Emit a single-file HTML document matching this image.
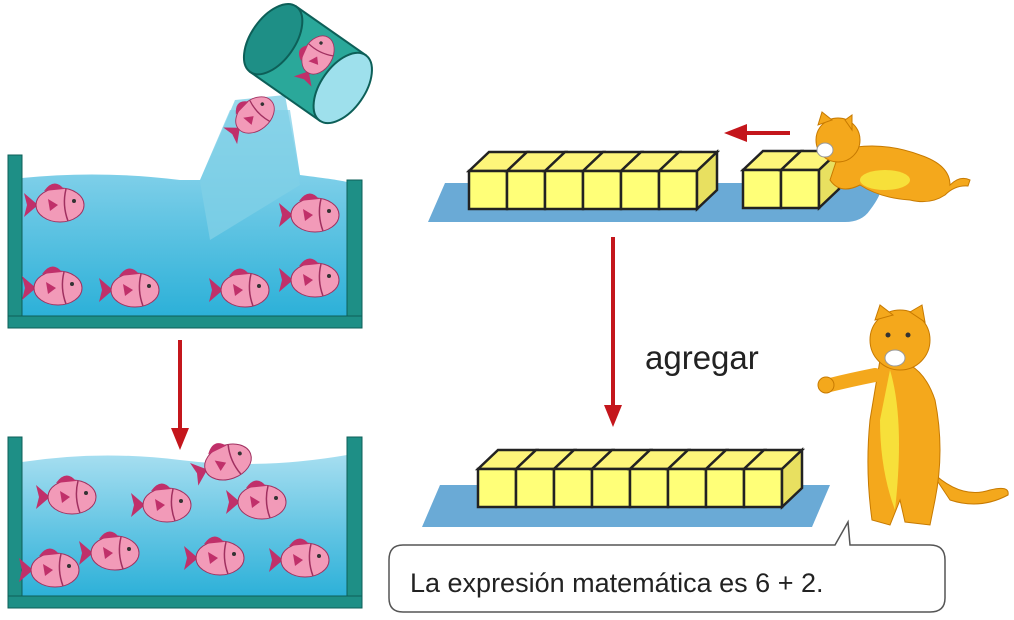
<!DOCTYPE html>
<html><head><meta charset="utf-8"><style>
html,body{margin:0;padding:0;background:#fff;}
svg{display:block;}
</style></head><body>
<svg width="1014" height="620" viewBox="0 0 1014 620" xmlns="http://www.w3.org/2000/svg">
<defs>
<linearGradient id="w" x1="0" y1="0" x2="0" y2="1">
<stop offset="0" stop-color="#a6def0"/><stop offset="0.5" stop-color="#66c6e4"/><stop offset="1" stop-color="#2bb0d8"/>
</linearGradient>
<g id="fish0">
<path d="M22,0 L36,-12 L33,0 L36,12 Z" fill="#c0306a"/>
<ellipse cx="0" cy="0" rx="24" ry="17" fill="#f29ab8" stroke="#a03060" stroke-width="1"/>
<path d="M-4,-16 Q6,-28 16,-14 Z" fill="#c0306a"/>
<path d="M-6,-16 Q-2,0 -8,16" fill="none" stroke="#a03060" stroke-width="1.5"/>
<circle cx="-14" cy="-4" r="2" fill="#333"/>
<path d="M2,0 L12,-6 L10,6 Z" fill="#c0306a"/>
</g>
<g id="fish"><use href="#fish0" transform="scale(-1,1)"/></g>
<g id="cube">
<polygon points="0,19 20,0 58,0 38,19" fill="#fdf57a" stroke="#222" stroke-width="2.5"/>
<rect x="0" y="19" width="38" height="38" fill="#ffff78" stroke="#222" stroke-width="2.5"/>
</g>
</defs>

<!-- top tank -->
<path d="M22,178 Q100,170 180,180 L200,180 L230,110 L290,110 L300,175 Q340,180 347,182 L347,318 L22,318 Z" fill="url(#w)"/>
<path d="M200,182 L235,100 L285,95 L295,150 L300,185 L210,240 Z" fill="#7fcfe6" opacity="0.8"/>
<rect x="8" y="155" width="14" height="173" fill="#1e8f86" stroke="#0d5f58"/>
<rect x="347" y="180" width="15" height="148" fill="#1e8f86" stroke="#0d5f58"/>
<rect x="8" y="316" width="354" height="12" fill="#1e8f86" stroke="#0d5f58"/>
<!-- bucket -->
<g transform="rotate(35 310 65)">
<rect x="265" y="25" width="85" height="80" fill="#2aa89a" stroke="#0d5f58" stroke-width="2"/>
<ellipse cx="350" cy="65" rx="22" ry="40" fill="#9ee0ec" stroke="#0d5f58" stroke-width="2"/>
<ellipse cx="265" cy="65" rx="22" ry="40" fill="#1e8f86" stroke="#0d5f58" stroke-width="2"/>
</g>
<use href="#fish" transform="translate(318,55) rotate(-60) scale(0.85)"/>
<use href="#fish" transform="translate(255,115) rotate(-40) scale(0.9)"/>
<use href="#fish" transform="translate(60,205)"/>
<use href="#fish0" transform="translate(315,215) scale(-1,1)"/>
<use href="#fish" transform="translate(58,288)"/>
<use href="#fish" transform="translate(135,290)"/>
<use href="#fish" transform="translate(245,290)"/>
<use href="#fish0" transform="translate(315,280) scale(-1,1)"/>

<!-- arrow down left -->
<line x1="180" y1="340" x2="180" y2="430" stroke="#c4161c" stroke-width="4"/>
<polygon points="171,428 189,428 180,450" fill="#c4161c"/>

<!-- bottom tank -->
<path d="M22,462 Q100,450 180,460 Q260,470 347,455 L347,598 L22,598 Z" fill="url(#w)"/>
<rect x="8" y="437" width="14" height="171" fill="#1e8f86" stroke="#0d5f58"/>
<rect x="347" y="437" width="15" height="171" fill="#1e8f86" stroke="#0d5f58"/>
<rect x="8" y="596" width="354" height="12" fill="#1e8f86" stroke="#0d5f58"/>
<use href="#fish" transform="translate(228,462) rotate(-20)"/>
<use href="#fish" transform="translate(72,497)"/>
<use href="#fish" transform="translate(167,505)"/>
<use href="#fish0" transform="translate(262,502) scale(-1,1)"/>
<use href="#fish" transform="translate(55,570)"/>
<use href="#fish" transform="translate(115,553)"/>
<use href="#fish" transform="translate(220,558)"/>
<use href="#fish0" transform="translate(305,560) scale(-1,1)"/>

<!-- top mat & cubes -->
<path d="M445,183 L880,183 Q885,190 870,210 Q862,222 845,222 L428,222 Z" fill="#6aaad6"/>
<g>
<use href="#cube" x="469" y="152"/><use href="#cube" x="507" y="152"/><use href="#cube" x="545" y="152"/>
<use href="#cube" x="583" y="152"/><use href="#cube" x="621" y="152"/><use href="#cube" x="659" y="152"/>
<polygon points="697,171 717,152 717,190 697,209" fill="#e8e060" stroke="#222" stroke-width="2.5"/>
</g>
<g>
<use href="#cube" x="743" y="151"/><use href="#cube" x="781" y="151"/>
<polygon points="819,170 839,151 839,189 819,208" fill="#e8e060" stroke="#222" stroke-width="2.5"/>
</g>
<!-- cat top -->
<path d="M840,150 Q880,140 920,155 Q950,165 950,185 Q960,175 970,180 L968,186 Q955,185 945,195 Q930,205 910,200 Q880,198 860,185 Q840,195 830,180 Z" fill="#f4a81c" stroke="#c77a00"/>
<ellipse cx="885" cy="180" rx="25" ry="10" fill="#f7e03a"/>
<circle cx="838" cy="140" r="22" fill="#f4a81c" stroke="#c77a00"/>
<polygon points="818,125 822,112 832,120" fill="#f4a81c" stroke="#c77a00"/>
<polygon points="845,120 852,115 852,130" fill="#f4a81c" stroke="#c77a00"/>
<ellipse cx="825" cy="150" rx="8" ry="7" fill="#fff" stroke="#999"/>
<!-- left arrow -->
<line x1="745" y1="133" x2="790" y2="133" stroke="#c4161c" stroke-width="4"/>
<polygon points="724,133 747,124 747,142" fill="#c4161c"/>

<!-- down arrow mid -->
<line x1="613" y1="237" x2="613" y2="408" stroke="#c4161c" stroke-width="4"/>
<polygon points="604,405 622,405 613,427" fill="#c4161c"/>
<text x="645" y="369" font-family="Liberation Sans, sans-serif" font-size="33" fill="#222">agregar</text>

<!-- bottom mat & cubes -->
<path d="M440,485 L830,485 L812,527 L422,527 Z" fill="#6aaad6"/>
<g>
<use href="#cube" x="478" y="450"/><use href="#cube" x="516" y="450"/><use href="#cube" x="554" y="450"/><use href="#cube" x="592" y="450"/>
<use href="#cube" x="630" y="450"/><use href="#cube" x="668" y="450"/><use href="#cube" x="706" y="450"/><use href="#cube" x="744" y="450"/>
<polygon points="782,469 802,450 802,488 782,507" fill="#e8e060" stroke="#222" stroke-width="2.5"/>
</g>

<!-- standing cat -->
<path d="M930,470 Q960,500 990,490 Q1010,485 1008,495 Q980,510 950,500 Z" fill="#f4a81c" stroke="#c77a00"/>
<path d="M880,360 Q920,355 935,400 Q945,450 935,500 L930,525 L905,522 L900,500 L890,525 L872,520 Q865,470 870,420 Z" fill="#f4a81c" stroke="#c77a00"/>
<path d="M890,370 Q905,420 895,510 Q880,470 880,420 Z" fill="#f7e03a"/>
<path d="M875,375 Q850,380 830,385" stroke="#f4a81c" stroke-width="14" fill="none" stroke-linecap="round"/>
<circle cx="826" cy="385" r="8" fill="#f4a81c" stroke="#c77a00"/>
<circle cx="900" cy="340" r="30" fill="#f4a81c" stroke="#c77a00"/>
<polygon points="875,320 880,305 893,315" fill="#f4a81c" stroke="#c77a00"/>
<polygon points="910,312 922,305 925,322" fill="#f4a81c" stroke="#c77a00"/>
<ellipse cx="895" cy="358" rx="10" ry="8" fill="#fff" stroke="#999"/>
<circle cx="888" cy="335" r="2.5" fill="#333"/><circle cx="908" cy="335" r="2.5" fill="#333"/>

<!-- speech bubble -->
<path d="M403,545 L835,545 L848,522 L850,545 L930,545 Q945,545 945,560 L945,598 Q945,612 930,612 L403,612 Q389,612 389,598 L389,560 Q389,545 403,545 Z" fill="#fff" stroke="#555" stroke-width="1.5"/>
<text x="410" y="592" font-family="Liberation Sans, sans-serif" font-size="27" fill="#222">La expresión matemática es 6 + 2.</text>
</svg>
</body></html>
